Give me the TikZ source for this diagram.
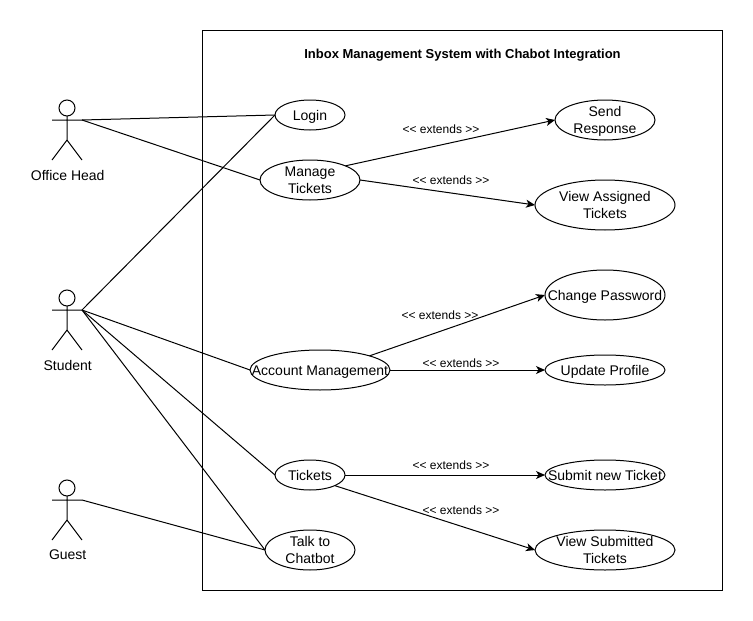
\documentclass[tikz,border=0pt]{standalone}
\usepackage{fontspec}
\setmainfont{Liberation Sans}
\usetikzlibrary{arrows.meta,shapes.geometric}
\tikzset{
 uc/.style={draw,ellipse,inner sep=0pt,outer sep=0pt,font=\fontsize{14}{17}\selectfont,line width=1pt,fill=white},
 line/.style={line width=1pt,black},
 ext/.style={line width=1pt,black,-{Stealth[length=9pt,width=8pt,inset=2.5pt]}},
 extlab/.style={font=\fontsize{12}{14}\selectfont,inner sep=0pt},
 actlab/.style={font=\fontsize{14}{17}\selectfont,inner sep=0pt},
 head/.style={draw,circle,line width=1pt,minimum size=16pt,inner sep=0pt,outer sep=0pt},
}
\newcommand{\uctext}[1]{\raisebox{-5.5pt}[0pt][0pt]{\makebox[0pt]{\begin{tabular}{@{}c@{}}#1\end{tabular}}}}
\newcommand{\actor}[4]{% name, cx, head y, label
 \node[head] (#1h) at (#2,#3) {};
 \coordinate (#1l) at (#2-15,#3+12);
 \coordinate (#1r) at (#2+15,#3+12);
 \coordinate (#1b) at (#2,#3+32);
 \coordinate (#1fl) at (#2-15,#3+52);
 \coordinate (#1fr) at (#2+15,#3+52);
 \draw[line] (#1h) -- (#1b) (#1l) -- (#1r) (#1fl) -- (#1b) -- (#1fr);
 \node[actlab] (#1t) at (#2+0.7,#3+67) {#4};
}
\begin{document}
\begin{tikzpicture}[x=1pt,y=-1pt]
\useasboundingbox (0,0) rectangle (753,621);
\node[draw,line width=1pt,minimum width=520pt,minimum height=560pt,inner sep=0pt,outer sep=0pt] (sys) at (462,310) {};
\node[font=\bfseries\fontsize{13}{15}\selectfont,inner sep=0pt] (title) at (462.5,55) {Inbox Management System with Chabot Integration};

\actor{oh}{67}{108}{Office Head}
\actor{st}{67}{298}{Student}
\actor{gu}{67}{488}{Guest}

\node[uc,minimum width=70pt,minimum height=30pt] (login) at (310,115) {\uctext{Login}};
\node[uc,minimum width=100pt,minimum height=40pt] (manage) at (310,180) {\uctext{Manage\\Tickets}};
\node[uc,minimum width=100pt,minimum height=40pt] (send) at (605,120) {\uctext{Send\\Response}};
\node[uc,minimum width=140pt,minimum height=50pt] (view) at (605,205) {\uctext{View Assigned\\Tickets}};
\node[uc,minimum width=120pt,minimum height=50pt] (change) at (605,295) {\uctext{Change Password}};
\node[uc,minimum width=120pt,minimum height=30pt] (update) at (605,370) {\uctext{Update Profile}};
\node[uc,minimum width=140pt,minimum height=40pt] (account) at (320,370) {\uctext{Account Management}};
\node[uc,minimum width=70pt,minimum height=30pt] (tickets) at (310,475) {\uctext{Tickets}};
\node[uc,minimum width=120pt,minimum height=30pt] (submit) at (605,475) {\uctext{Submit new Ticket}};
\node[uc,minimum width=140pt,minimum height=40pt] (viewsub) at (605,550) {\uctext{View Submitted\\Tickets}};
\node[uc,minimum width=90pt,minimum height=40pt] (chat) at (310,550) {\uctext{Talk to\\Chatbot}};

\draw[line] (ohr) -- (login.west);
\draw[line] (ohr) -- (manage.west);
\draw[line] (str) -- (login.west);
\draw[line] (str) -- (account.west);
\draw[line] (str) -- (tickets.west);
\draw[line] (str) -- (chat.west);
\draw[line] (gur) -- (chat.west);

\draw[ext] (manage.north east) -- (send.west);
\draw[ext] (manage.east) -- (view.west);
\draw[ext] (account.north east) -- (change.west);
\draw[ext] (account.east) -- (update.west);
\draw[ext] (tickets.east) -- (submit.west);
\draw[ext] (tickets.south east) -- (viewsub.west);

\node[extlab] (l1) at (441,129) {<{}< extends >{}>};
\node[extlab] (l2) at (451,180.5) {<{}< extends >{}>};
\node[extlab] (l3) at (440,315.5) {<{}< extends >{}>};
\node[extlab] (l4) at (461,363.5) {<{}< extends >{}>};
\node[extlab] (l5) at (451,465.5) {<{}< extends >{}>};
\node[extlab] (l6) at (461,510.5) {<{}< extends >{}>};
\end{tikzpicture}
\end{document}
